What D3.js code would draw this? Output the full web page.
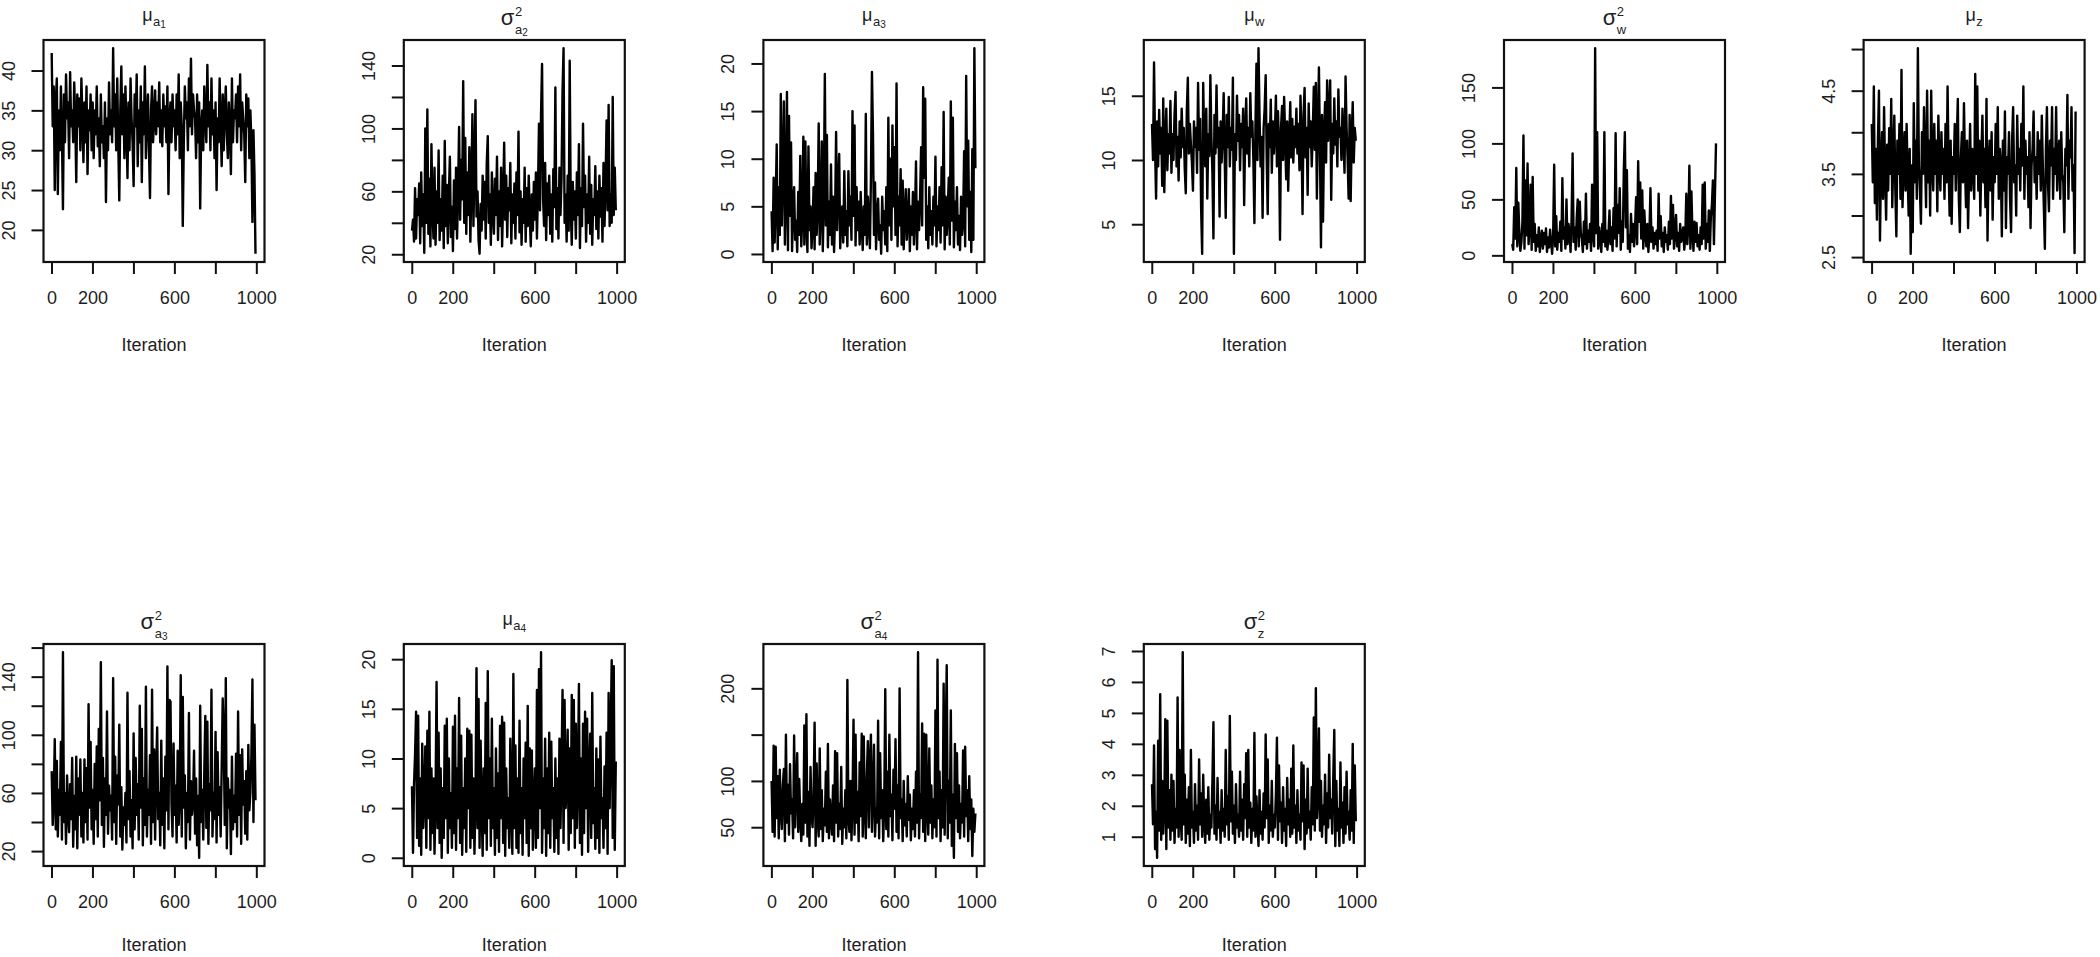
<!DOCTYPE html>
<html>
<head>
<meta charset="utf-8">
<script src="https://d3js.org/d3.v7.min.js"></script>
<style>
body { margin: 0; background: #fff; }
svg { display: block; }
text { font-family: "Liberation Sans", Arial, sans-serif; fill: #1e1e1e; }
</style>
</head>
<body>
<script>
// MCMC traces, 1000 iterations each, every 5th iteration.
const nIter = 1000;
const thin = 5;

const muA1 = [
  42.2, 33, 38, 25, 36, 39, 24.5, 35, 30, 38, 32, 22.6, 37, 31, 39.5, 34, 36, 29, 39.8, 33,
  35, 31, 38.5, 34, 26, 37, 33, 36.5, 30, 39, 34, 28.5, 36, 31, 38, 27, 35, 32.5, 37, 30,
  36, 29, 35, 32, 38, 30.5, 34, 28, 37, 31, 33, 29, 36, 23.5, 34, 30, 38.5, 32, 35, 31,
  42.8, 33, 37, 30, 39, 31, 23.7, 35, 40.5, 32, 37, 29, 38, 33, 26.5, 36, 30, 39, 34, 31,
  25.5, 37, 33, 39.5, 28, 35, 31, 38, 26, 36, 32, 40.5, 29, 34, 37, 30, 24, 35, 38, 31,
  34, 37.5, 32, 36, 33, 38.5, 31, 35, 30.5, 37, 33, 35.5, 31, 38, 24.5, 34, 36, 31, 37, 33,
  35, 30, 37, 32, 39.5, 29, 36, 33, 20.5, 31, 38, 34, 36, 30, 39, 33, 41.5, 32, 37, 35,
  34, 29, 37, 31, 36, 22.7, 33, 35, 30, 38, 34, 31, 40.7, 33, 36, 30, 39, 32, 35, 29,
  36, 25, 34, 31, 39, 33, 28, 37, 30, 35, 38, 32, 29, 36, 33, 27, 39, 31, 35, 34,
  37, 31, 38, 33, 39.5, 30, 36, 34, 32, 26, 37, 33, 36.5, 29, 35, 31, 21, 32.5, 27, 17
];
const sigma2A2 = [
  35, 42, 28, 62, 30, 55, 45, 65, 27, 72, 38, 58, 21, 100, 40, 112, 33, 68, 25, 90,
  48, 30, 75, 26, 60, 40, 86, 29, 55, 35, 70, 24, 92, 38, 64, 27, 58, 82, 31, 50,
  22, 67, 36, 75, 30, 60, 101, 42, 80, 55, 130, 40, 94, 33, 72, 45, 88, 28, 65, 109,
  38, 75, 118, 44, 60, 29, 20.3, 52, 35, 70, 42, 66, 30, 78, 95, 40, 58, 26, 72, 48,
  33, 68, 45, 82, 29, 60, 38, 75, 25, 55, 91, 42, 70, 31, 62, 48, 78, 27, 58, 40,
  65, 30, 72, 45, 98, 34, 60, 26, 55, 40, 75, 28, 62, 38, 70, 44, 25, 58, 35, 66,
  42, 72, 30, 60, 103, 48, 109, 141, 55, 38, 78, 29, 65, 45, 70, 33, 58, 28, 74, 50,
  126, 36, 62, 30, 75, 45, 68, 124, 151, 40, 58, 28, 70, 35, 143, 50, 26, 66, 42, 60,
  30, 72, 45, 90, 24, 62, 38, 103, 50, 70, 28, 58, 40, 82, 33, 64, 26, 55, 45, 76,
  36, 60, 30, 70, 44, 62, 28, 78, 38, 66, 105, 48, 115, 38, 58, 40, 120, 45, 75, 48
];
const muA3 = [
  4.5, 0.3, 8, 1.2, 5.5, 11.5, 0.5, 7, 2, 16.8, 3, 9, 16, 1, 6, 17, 0.4, 14.5, 4, 11.7,
  0.3, 5, 7, 1.5, 3.5, 0.2, 6.5, 2, 10.3, 0.8, 4, 12.3, 1, 11.8, 3, 0.2, 11.3, 2.5, 5, 0.6,
  3, 7, 0.5, 8.5, 2, 5, 13.7, 1, 4.5, 11.8, 0.3, 6, 18.9, 3, 12.5, 0.7, 5.5, 2, 9.4, 1,
  6, 0.2, 4, 12.8, 2.5, 7, 10.5, 0.6, 3.5, 5, 1.2, 8.7, 2, 4.5, 0.8, 8.7, 3, 6, 1.5, 15,
  4, 13.5, 0.9, 7, 2.5, 5.5, 1, 6.5, 3, 0.4, 5, 2, 14.7, 1, 6, 3.5, 0.6, 8, 19.1, 12.6,
  2, 7.5, 0.5, 4, 5.8, 1.5, 3, 0.02, 6, 2.5, 4.5, 1, 7, 0.3, 14.3, 3, 10, 1.5, 13.5, 5,
  11.2, 2, 17.9, 0.8, 6, 3, 8.9, 1, 7.7, 0.5, 4, 6.8, 1.5, 3.5, 6.8, 0.3, 5, 2, 6.5, 1,
  4, 9.7, 0.5, 5.5, 2.5, 6, 11.2, 3, 17.5, 8, 16.3, 1.5, 5, 0.6, 7, 2, 4.5, 1, 6, 3,
  10.2, 0.8, 5, 2.5, 7, 1.2, 9.1, 3, 14.9, 0.5, 6, 2, 4.5, 8, 1, 16, 3.5, 14.3, 0.7, 5.5,
  2.5, 7, 1, 4, 0.4, 6, 2, 3.5, 10.8, 0.8, 18.7, 5, 11.9, 1.5, 6.5, 0.2, 11, 1.5, 21.6, 9
];
const muW = [
  12.8, 10, 17.6, 11, 7, 13, 9.5, 13.9, 10.5, 12.5, 8, 14.8, 7.5, 11.5, 14, 9.2, 12, 10.5, 14.6, 9,
  12, 10, 13.5, 15.3, 9.5, 11.8, 8.4, 13, 10.2, 14, 11, 12.5, 9.3, 7.4, 13.8, 16.4, 10.5, 12.8, 11.2, 9.8,
  7.6, 13, 11, 12.5, 9, 16, 10.8, 13.2, 6.2, 2.7, 16, 11.5, 9.5, 14, 7, 12, 10.3, 16.6, 11.8, 9,
  3.9, 13.5, 10.5, 15.8, 11, 12.5, 5.6, 13, 9.8, 12, 15.2, 10.2, 5.5, 13.5, 11, 14.9, 9.5, 12.5, 10.8, 16.4,
  2.7, 12, 10, 15, 11.5, 13.5, 9.2, 12.8, 11, 14, 6.5, 12.2, 14.8, 10.5, 12.5, 9.5, 15.2, 11.8, 13, 10,
  5.1, 12.5, 17.5, 10, 18.7, 13.5, 9.5, 11.8, 5.5, 12.5, 14, 16.6, 10.2, 5.8, 12.8, 11, 14.7, 9, 13, 10.5,
  12.2, 15, 9.5, 13.8, 11.2, 3.8, 12.5, 14.2, 10, 14.9, 12, 8.5, 13, 7.6, 11.5, 14.5, 10.2, 13.2, 9.8, 12.6,
  11, 14, 10.5, 12.8, 9.2, 15, 11.8, 5.8, 13.5, 15.6, 10.2, 12.5, 7.3, 14.4, 11, 13, 9.5, 12.2, 15.7, 10.8,
  16, 7, 12.5, 17.2, 11, 3.2, 13.5, 5.2, 12, 14.5, 9.8, 16.2, 11.5, 13.8, 16.2, 6.9, 12.8, 10.5, 14.8, 11.2,
  13, 9.5, 15.5, 11.8, 12.5, 10, 14, 11.5, 9, 16.5, 12.5, 10.2, 7, 13.5, 6.8, 11.8, 14.5, 9.8, 12.5, 11.5
];
const sigma2W = [
  10, 5, 43, 15, 78, 8, 47, 20, 4, 12, 30, 107, 6, 67, 18, 82, 10, 25, 63, 5,
  70, 12, 28, 4, 18, 8, 25, 3, 15, 22, 6, 20, 10, 24, 3, 16, 7, 23, 12, 1.4,
  18, 81, 8, 35, 5, 20, 12, 30, 4, 69, 15, 25, 6, 50, 10, 28, 20, 3, 33, 91,
  12, 25, 5, 33, 50, 8, 48, 20, 15, 3, 30, 10, 55, 6, 22, 12, 28, 4, 63, 18,
  8, 185, 20, 110, 6, 25, 15, 3, 28, 12, 110, 8, 22, 5, 18, 40, 10, 25, 4, 42,
  15, 109, 8, 45, 20, 60, 5, 30, 12, 76, 110, 25, 76, 6, 18, 3, 37, 12, 28, 8,
  25, 52, 10, 84, 30, 65, 15, 58, 6, 40, 20, 8, 28, 3, 18, 60, 12, 25, 6, 20,
  10, 22, 4, 55, 15, 35, 8, 20, 3, 25, 12, 18, 5, 30, 10, 53, 15, 45, 6, 22,
  36, 8, 20, 4, 28, 12, 18, 25, 5, 15, 55, 10, 28, 80, 6, 57, 20, 4, 30, 12,
  29, 8, 18, 5, 25, 10, 63, 15, 65, 6, 28, 12, 40, 4, 35, 45, 67, 10, 55, 100
];
const muZ = [
  4.1, 3.4, 4.55, 3.15, 3.8, 2.95, 3.9, 4.5, 2.7, 3.6, 4.0, 3.2, 4.3, 3.5, 2.95, 3.85, 3.3, 4.05, 3.5, 4.4,
  3.1, 3.7, 4.2, 3.3, 2.75, 3.9, 3.5, 4.1, 3.2, 4.75, 3.1, 3.6, 4.0, 3.3, 4.1, 3.5, 3.0, 3.8, 2.54, 3.6,
  2.8, 4.35, 3.4, 3.9, 3.2, 5.01, 3.6, 3.3, 2.9, 4.0, 3.5, 4.3, 3.7, 3.1, 4.5, 3.4, 3.9, 3.0, 4.5, 3.6,
  3.3, 4.1, 3.5, 3.9, 3.05, 4.2, 3.6, 3.3, 4.0, 3.5, 3.8, 3.2, 4.1, 3.4, 4.55, 3.6, 3.0, 3.9, 2.9, 3.7,
  3.5, 4.1, 3.3, 3.9, 4.4, 3.2, 2.8, 3.7, 4.0, 3.4, 4.35, 3.6, 3.1, 3.9, 2.85, 3.5, 4.1, 3.3, 3.8, 3.6,
  3.2, 4.7, 3.5, 4.55, 3.3, 3.9, 3.0, 3.7, 4.2, 3.4, 3.8, 3.1, 4.4, 2.7, 3.6, 3.9, 3.3, 4.0, 2.95, 3.7,
  3.4, 4.1, 3.5, 4.3, 3.2, 3.8, 3.6, 2.75, 3.9, 3.3, 4.25, 2.85, 3.7, 3.5, 4.0, 3.2, 2.8, 3.9, 4.3, 3.4,
  3.6, 3.0, 4.2, 3.5, 3.8, 3.3, 4.1, 3.6, 4.55, 3.2, 3.9, 3.5, 3.7, 3.1, 4.0, 2.85, 3.6, 3.8, 4.25, 3.4,
  3.7, 3.2, 4.0, 3.5, 3.9, 3.3, 4.2, 3.6, 3.1, 2.6, 3.8, 4.3, 3.4, 3.05, 3.9, 3.6, 4.3, 3.2, 3.8, 3.5,
  4.3, 3.3, 3.7, 3.9, 3.2, 4.0, 3.5, 3.4, 2.8, 3.8, 3.6, 4.45, 3.2, 3.9, 3.7, 4.3, 3.3, 3.6, 2.55, 4.25
];
const sigma2A3 = [
  75, 38, 55, 97, 35, 82, 30, 62, 45, 95, 28, 156.8, 40, 60, 25, 72, 48, 33, 66, 42,
  84, 23, 58, 35, 85, 22, 70, 45, 83, 30, 60, 26, 83, 40, 77, 28, 121, 50, 95, 35,
  62, 25, 80, 42, 92, 30, 104, 55, 150, 38, 84, 23, 70, 45, 116, 32, 65, 48, 58, 28,
  139, 40, 85, 25, 72, 52, 107, 30, 64, 21, 50, 38, 60, 26, 129, 42, 75, 30, 55, 22,
  101, 35, 84, 45, 66, 28, 120, 50, 104, 24, 70, 38, 133, 30, 62, 45, 86, 25, 131, 40,
  90, 28, 75, 105, 42, 60, 24, 96, 38, 70, 22, 85, 48, 147, 35, 124, 123, 52, 30, 94,
  45, 65, 26, 89, 38, 58, 141, 30, 126, 50, 72, 22, 60, 40, 115, 28, 68, 45, 55, 89,
  32, 70, 24, 58, 15.4, 120, 40, 62, 28, 75, 113, 36, 109, 25, 66, 48, 131, 30, 60, 42,
  102, 26, 88, 45, 64, 30, 78, 125, 98, 38, 139, 22, 70, 50, 62, 18, 85, 35, 58, 40,
  87, 30, 116, 45, 86, 25, 90, 52, 68, 32, 75, 28, 93, 48, 60, 86, 138, 40, 107, 55
];
const muA4 = [
  7.2, 0.5, 7.4, 10.4, 14.7, 2, 14.3, 1.2, 8, 0.3, 11.5, 3, 6, 11.2, 1, 12.8, 4, 14.7, 0.8, 9,
  2.5, 8, 0.4, 6, 17.7, 3, 12.6, 1.5, 9, 0, 7, 2, 13.3, 4, 14, 0.5, 10, 3, 6.5, 1,
  13.2, 2.5, 14.3, 0.8, 9, 4, 16.1, 1.5, 12.3, 0.3, 7, 3, 10, 0.6, 13, 5, 12.8, 1, 12.4, 2,
  8, 0.4, 6, 19.1, 3, 16, 1, 11.8, 5, 0.2, 9, 2.5, 15.6, 0.8, 18.8, 4, 10, 1.2, 14, 3,
  7, 0.3, 11, 2, 8.5, 0.6, 13.3, 4, 14.2, 1.5, 13.6, 0.2, 9, 3, 6, 1, 12, 5, 0.4, 18.5,
  3, 11.3, 1, 8, 0.5, 13.8, 2.5, 7, 0.3, 10, 4, 11.6, 1.5, 15.3, 0.2, 11, 3, 10.8, 0.8, 6,
  9, 1, 16.9, 2, 19, 5, 20.7, 0.5, 8, 3, 12, 0.2, 9, 2.5, 12.6, 1, 11.7, 4, 7, 0.6,
  10, 2, 8, 0.4, 12, 3, 9, 16.9, 1.5, 15.9, 5, 7, 12.9, 0.8, 11, 2.5, 16.4, 4, 15.9, 1,
  13.5, 3, 8, 17.5, 1.5, 10, 0.3, 13.5, 2.5, 14.7, 5, 14, 0.6, 9, 12.5, 2, 16.6, 3.5, 7, 0.9,
  11, 2, 9.9, 0.5, 12.2, 4, 6, 1, 9.2, 3, 12.6, 0.4, 16.6, 5, 12, 19.9, 2, 19.3, 0.8, 9.7
];
const sigma2A4 = [
  100, 45, 138, 40, 137, 60, 105, 38, 112, 70, 48, 95, 113, 35, 150, 55, 96, 42, 118, 65,
  80, 38, 149, 50, 91, 130, 45, 102, 60, 35, 75, 42, 160, 55, 172, 40, 88, 30, 115, 65,
  50, 85, 163, 30, 119, 58, 40, 135, 48, 90, 35, 70, 52, 110, 45, 140, 38, 80, 60, 42,
  95, 35, 132, 55, 130, 40, 75, 48, 115, 32, 70, 50, 90, 38, 209, 60, 45, 100, 36, 80,
  166, 42, 150, 55, 88, 35, 120, 62, 151, 40, 148, 70, 38, 105, 143, 50, 120, 150, 45, 85,
  139, 40, 70, 55, 165, 38, 130, 60, 90, 35, 75, 199, 48, 110, 40, 150, 62, 85, 36, 112,
  70, 145, 45, 95, 38, 200, 60, 80, 35, 100, 52, 75, 40, 105, 58, 85, 36, 70, 48, 90,
  40, 110, 55, 239, 38, 85, 60, 162, 45, 151, 35, 150, 70, 42, 135, 55, 95, 38, 80, 50,
  176, 40, 231, 60, 110, 35, 90, 50, 205, 42, 140, 225, 38, 100, 55, 176, 30, 85, 17, 140,
  60, 130, 45, 95, 38, 75, 55, 133, 40, 137, 62, 90, 35, 105, 48, 80, 19, 70, 45, 65
];
const sigma2Z = [
  2.7, 1.4, 3.95, 0.6, 1.8, 0.32, 4.1, 1.2, 5.6, 0.9, 2.8, 1.1, 1.9, 4.8, 0.6, 4.75, 1.3, 2.5, 0.9, 3,
  1.2, 2.8, 0.8, 1.9, 1.3, 5.5, 1.0, 3.8, 1.6, 0.9, 6.96, 1.4, 3, 0.8, 2.2, 1.1, 2.6, 0.7, 3.8, 1.3,
  1.8, 0.8, 2.7, 1.2, 2, 0.9, 3.5, 1.4, 2.4, 1.0, 3, 1.5, 0.8, 2.2, 1.1, 2.6, 0.9, 1.7, 1.3, 2.8,
  4.7, 1.1, 2.0, 0.9, 2.9, 1.3, 1.8, 0.8, 2.5, 1.2, 1.9, 1.0, 3.8, 1.4, 2.3, 0.9, 4.9, 1.5, 3.1, 1.1,
  2.0, 0.8, 2.7, 1.3, 1.7, 1.0, 3.1, 1.2, 2.2, 0.9, 2.7, 1.6, 3.7, 1.0, 3.8, 1.3, 2.1, 0.8, 1.9, 1.2,
  4.35, 1.0, 2.3, 1.4, 0.7, 2.5, 1.1, 1.8, 0.9, 2.4, 1.3, 4.3, 1.6, 3.5, 0.8, 2.0, 1.2, 2.8, 1.0, 1.7,
  1.3, 2.4, 4.2, 0.9, 3.3, 1.5, 2.1, 0.8, 2.6, 1.2, 1.9, 0.7, 2.9, 1.4, 2.2, 1.0, 3.2, 1.1, 3.95, 1.3,
  2.0, 0.8, 2.5, 1.2, 1.7, 0.9, 3.4, 1.5, 3.3, 0.6, 2.2, 1.1, 3.2, 1.3, 1.8, 0.9, 2.6, 1.4, 4.85, 1.2,
  5.8, 1.6, 2.3, 4.5, 1.2, 2.8, 1.0, 2.0, 1.4, 3.0, 0.8, 2.4, 1.3, 3.65, 1.6, 2.2, 1.1, 2.9, 4.45, 0.7,
  2.8, 1.2, 1.9, 0.7, 3.4, 1.3, 2.1, 0.8, 2.6, 1.1, 3.1, 1.4, 1.8, 0.9, 2.5, 1.2, 4.0, 0.8, 3.3, 1.5
];

const traces = [muA1, sigma2A2, muA3, muW, sigma2W, muZ, sigma2A3, muA4, sigma2A4, sigma2Z];

const titles = [
  { base: "μ", sub: "a", subsub: "1" },
  { base: "σ", sup: "2", sub: "a", subsub: "2" },
  { base: "μ", sub: "a", subsub: "3" },
  { base: "μ", sub: "w" },
  { base: "σ", sup: "2", sub: "w" },
  { base: "μ", sub: "z" },
  { base: "σ", sup: "2", sub: "a", subsub: "3" },
  { base: "μ", sub: "a", subsub: "4" },
  { base: "σ", sup: "2", sub: "a", subsub: "4" },
  { base: "σ", sup: "2", sub: "z" }
];

const xTicks = [0, 200, 400, 600, 800, 1000];
const xLabels = [0, 200, 600, 1000];
const yTicks = [
  [20, 25, 30, 35, 40],
  [20, 40, 60, 80, 100, 120, 140],
  [0, 5, 10, 15, 20],
  [5, 10, 15],
  [0, 50, 100, 150],
  [2.5, 3, 3.5, 4, 4.5, 5],
  [20, 40, 60, 80, 100, 120, 140, 160],
  [0, 5, 10, 15, 20],
  [50, 100, 150, 200],
  [1, 2, 3, 4, 5, 6, 7]
];
const yLabels = [
  [20, 25, 30, 35, 40],
  [20, 60, 100, 140],
  [0, 5, 10, 15, 20],
  [5, 10, 15],
  [0, 50, 100, 150],
  [2.5, 3.5, 4.5],
  [20, 60, 100, 140],
  [0, 5, 10, 15, 20],
  [50, 100, 200],
  [1, 2, 3, 4, 5, 6, 7]
];

// Layout of the 2 x 6 grid (plot boxes).
const W = 2100, H = 957;
const colLeft = [43.5, 403.8, 763.4, 1143.8, 1504, 1863.6];
const rowTop = [40, 644];
const labelDrop = [89, 85];
const boxW = 221, boxH = 222;

const svg = d3.select("body").append("svg")
    .attr("width", W)
    .attr("height", H);

function drawTitle(t, cx, top) {
  const g = svg.append("g");
  const isSigma = !!t.sup;
  const b = g.append("text")
      .attr("y", top - (isSigma ? 15 : 19))
      .style("font-size", isSigma ? "22px" : "18px")
      .text(t.base);
  const bw = b.node().getComputedTextLength() + 0.5;
  const subY = top - (isSigma ? 6 : 14);
  const s = g.append("text")
      .attr("x", bw)
      .attr("y", subY)
      .style("font-size", "13px")
      .text(t.sub);
  let sw = s.node().getComputedTextLength();
  if (t.subsub) {
    const ss = g.append("text")
        .attr("x", bw + sw)
        .attr("y", subY + 2)
        .style("font-size", "10px")
        .text(t.subsub);
    sw += ss.node().getComputedTextLength();
  }
  let tw = bw + sw;
  if (t.sup) {
    const p = g.append("text")
        .attr("x", bw)
        .attr("y", top - 24)
        .style("font-size", "13px")
        .text(t.sup);
    tw = Math.max(tw, bw + p.node().getComputedTextLength());
  }
  g.attr("transform", `translate(${cx - tw / 2},0)`);
}

traces.forEach((vals, k) => {
  const row = Math.floor(k / 6);
  const left = colLeft[k % 6];
  const top = rowTop[row];

  // R style 4% padding on both axes.
  const xPad = 0.04 * (nIter - 1);
  const x = d3.scaleLinear()
      .domain([1 - xPad, nIter + xPad])
      .range([left, left + boxW]);
  const [lo, hi] = d3.extent(vals);
  const yPad = 0.04 * (hi - lo);
  const y = d3.scaleLinear()
      .domain([lo - yPad, hi + yPad])
      .range([top + boxH, top]);

  const line = d3.line()
      .x((d, i) => x(1 + i * thin))
      .y(d => y(d));

  svg.append("path")
      .datum(vals)
      .attr("d", line)
      .attr("fill", "none")
      .attr("stroke", "#000")
      .attr("stroke-width", 2.4)
      .attr("stroke-linejoin", "round");

  // Box
  svg.append("rect")
      .attr("x", left).attr("y", top)
      .attr("width", boxW).attr("height", boxH)
      .attr("fill", "none")
      .attr("stroke", "#111")
      .attr("stroke-width", 2.2);

  // x axis
  const xa = svg.append("g")
      .attr("transform", `translate(0,${top + boxH})`)
      .call(d3.axisBottom(x)
        .tickValues(xTicks)
        .tickSize(12)
        .tickSizeOuter(0)
        .tickFormat(d => xLabels.includes(d) ? d : ""));
  xa.select(".domain").remove();
  xa.selectAll(".tick line").attr("stroke", "#111").attr("stroke-width", 2);
  xa.selectAll(".tick text")
      .attr("y", 42).attr("dy", null)
      .attr("fill", "#1e1e1e")
      .style("font-size", "18px")
      .style("font-family", "'Liberation Sans', Arial, sans-serif");

  // y axis
  const ya = svg.append("g")
      .attr("transform", `translate(${left},0)`)
      .call(d3.axisLeft(y)
        .tickValues(yTicks[k])
        .tickSize(12)
        .tickSizeOuter(0)
        .tickFormat(d => yLabels[k].includes(d) ? d : ""));
  ya.select(".domain").remove();
  ya.selectAll(".tick line").attr("stroke", "#111").attr("stroke-width", 2);
  ya.selectAll(".tick text")
      .attr("x", null).attr("dy", null)
      .attr("text-anchor", "middle")
      .attr("transform", "translate(-29,0) rotate(-90)")
      .attr("fill", "#1e1e1e")
      .style("font-size", "18px")
      .style("font-family", "'Liberation Sans', Arial, sans-serif");

  // Axis label
  svg.append("text")
      .attr("x", left + boxW / 2)
      .attr("y", top + boxH + labelDrop[row])
      .attr("text-anchor", "middle")
      .style("font-size", "18px")
      .text("Iteration");

  drawTitle(titles[k], left + boxW / 2, top);
});
</script>
</body>
</html>
